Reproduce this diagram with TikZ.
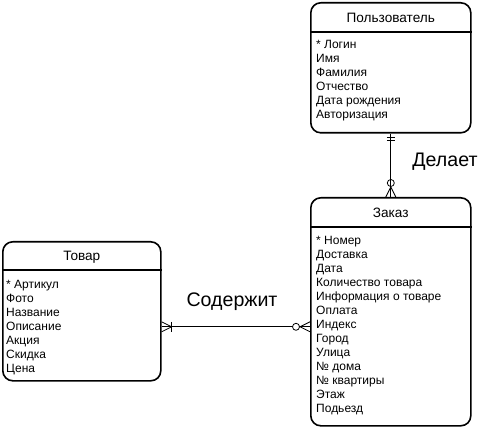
\documentclass[tikz,border=0pt]{standalone}
\usepackage{fontspec}
\setmainfont{Liberation Sans}
\usetikzlibrary{arrows.meta,positioning,calc}

\begin{document}
\begin{tikzpicture}[x=1pt, y=-1pt, line join=round]
\tikzstyle{entity}=[draw=black,line width=1.6pt,rounded corners=10pt,minimum width=160pt,anchor=north west,inner sep=0pt]
\tikzstyle{title}=[font=\fontsize{13.6}{15}\selectfont,inner sep=0pt]
\tikzstyle{fields}=[font=\fontsize{12}{14}\selectfont,align=left,anchor=north west,inner sep=0pt]
\tikzstyle{rel}=[font=\fontsize{19.6}{22}\selectfont,inner sep=0pt]
\tikzstyle{link}=[draw=black,line width=0.8pt]
\useasboundingbox (0,0) rectangle (492,427);

% entities
\node[entity,minimum height=130pt] (user)    at (310,2)   {};
\node[entity,minimum height=228pt] (order)   at (310,197) {};
\node[entity,minimum width=158pt,minimum height=139pt] (product) at (2,241) {};

% headers
\node[title] (user title)    at ($(user.north)+(0,15.5)$)    {Пользователь};
\node[title] (order title)   at ($(order.north)+(0,16)$)   {Заказ};
\node[title] (product title) at ($(product.north)+(0,16)$) {Товар};
\draw[line width=1.6pt] ($(user.north west)+(0,30)$) -- ($(user.north east)+(0,30)$);
\draw[line width=1.6pt] ($(order.north west)+(0,30)$) -- ($(order.north east)+(0,30)$);
\draw[line width=1.6pt] ($(product.north west)+(0,29)$) -- ($(product.north east)+(0,29)$);

% attributes
\node[fields] (user fields) at ($(user.north west)+(6,38)$)
  {* Логин\\Имя\\Фамилия\\Отчество\\Дата рождения\\Авторизация};
\node[fields] (order fields) at ($(order.north west)+(6,39)$)
  {* Номер\\Доставка\\Дата\\Количество товара\\Информация о товаре\\Оплата\\Индекс\\Город\\Улица\\№ дома\\№ квартиры\\Этаж\\Подьезд};
\node[fields] (product fields) at ($(product.north west)+(4,39)$)
  {* Артикул\\Фото\\Название\\Описание\\Акция\\Скидка\\Цена};

% relations
\coordinate (p end) at ($(product.east)+(0,15.5)$);
\coordinate (o end) at (order.west |- p end);
\draw[link] (user) -- (order);
\draw[link] (p end) -- (o end);

% one and only one
\draw[link] ($(user.south)+(-4,4)$) -- ++(8,0);
\draw[link] ($(user.south)+(-4,7)$) -- ++(8,0);
% zero or many
\draw[link] ($(order.north)+(0,-14)$) circle (3.5);
\draw[link] ($(order.north)+(-5,0)$) -- ($(order.north)+(0,-10)$) -- ($(order.north)+(5,0)$);
% one or many
\draw[link] ($(p end)+(10,-5)$) -- ++(0,10);
\draw[link] ($(p end)+(0,-5)$) -- ($(p end)+(10,0)$) -- ($(p end)+(0,5)$);
% zero or many
\draw[link,fill=white] ($(o end)+(-14,0)$) circle (3.5);
\draw[link] ($(o end)+(0,-5)$) -- ($(o end)+(-10,0)$) -- ($(o end)+(0,5)$);

\node[rel] (makes)    at (445,162) {Делает};
\node[rel] (contains) at (232,302) {Содержит};
\end{tikzpicture}
\end{document}
